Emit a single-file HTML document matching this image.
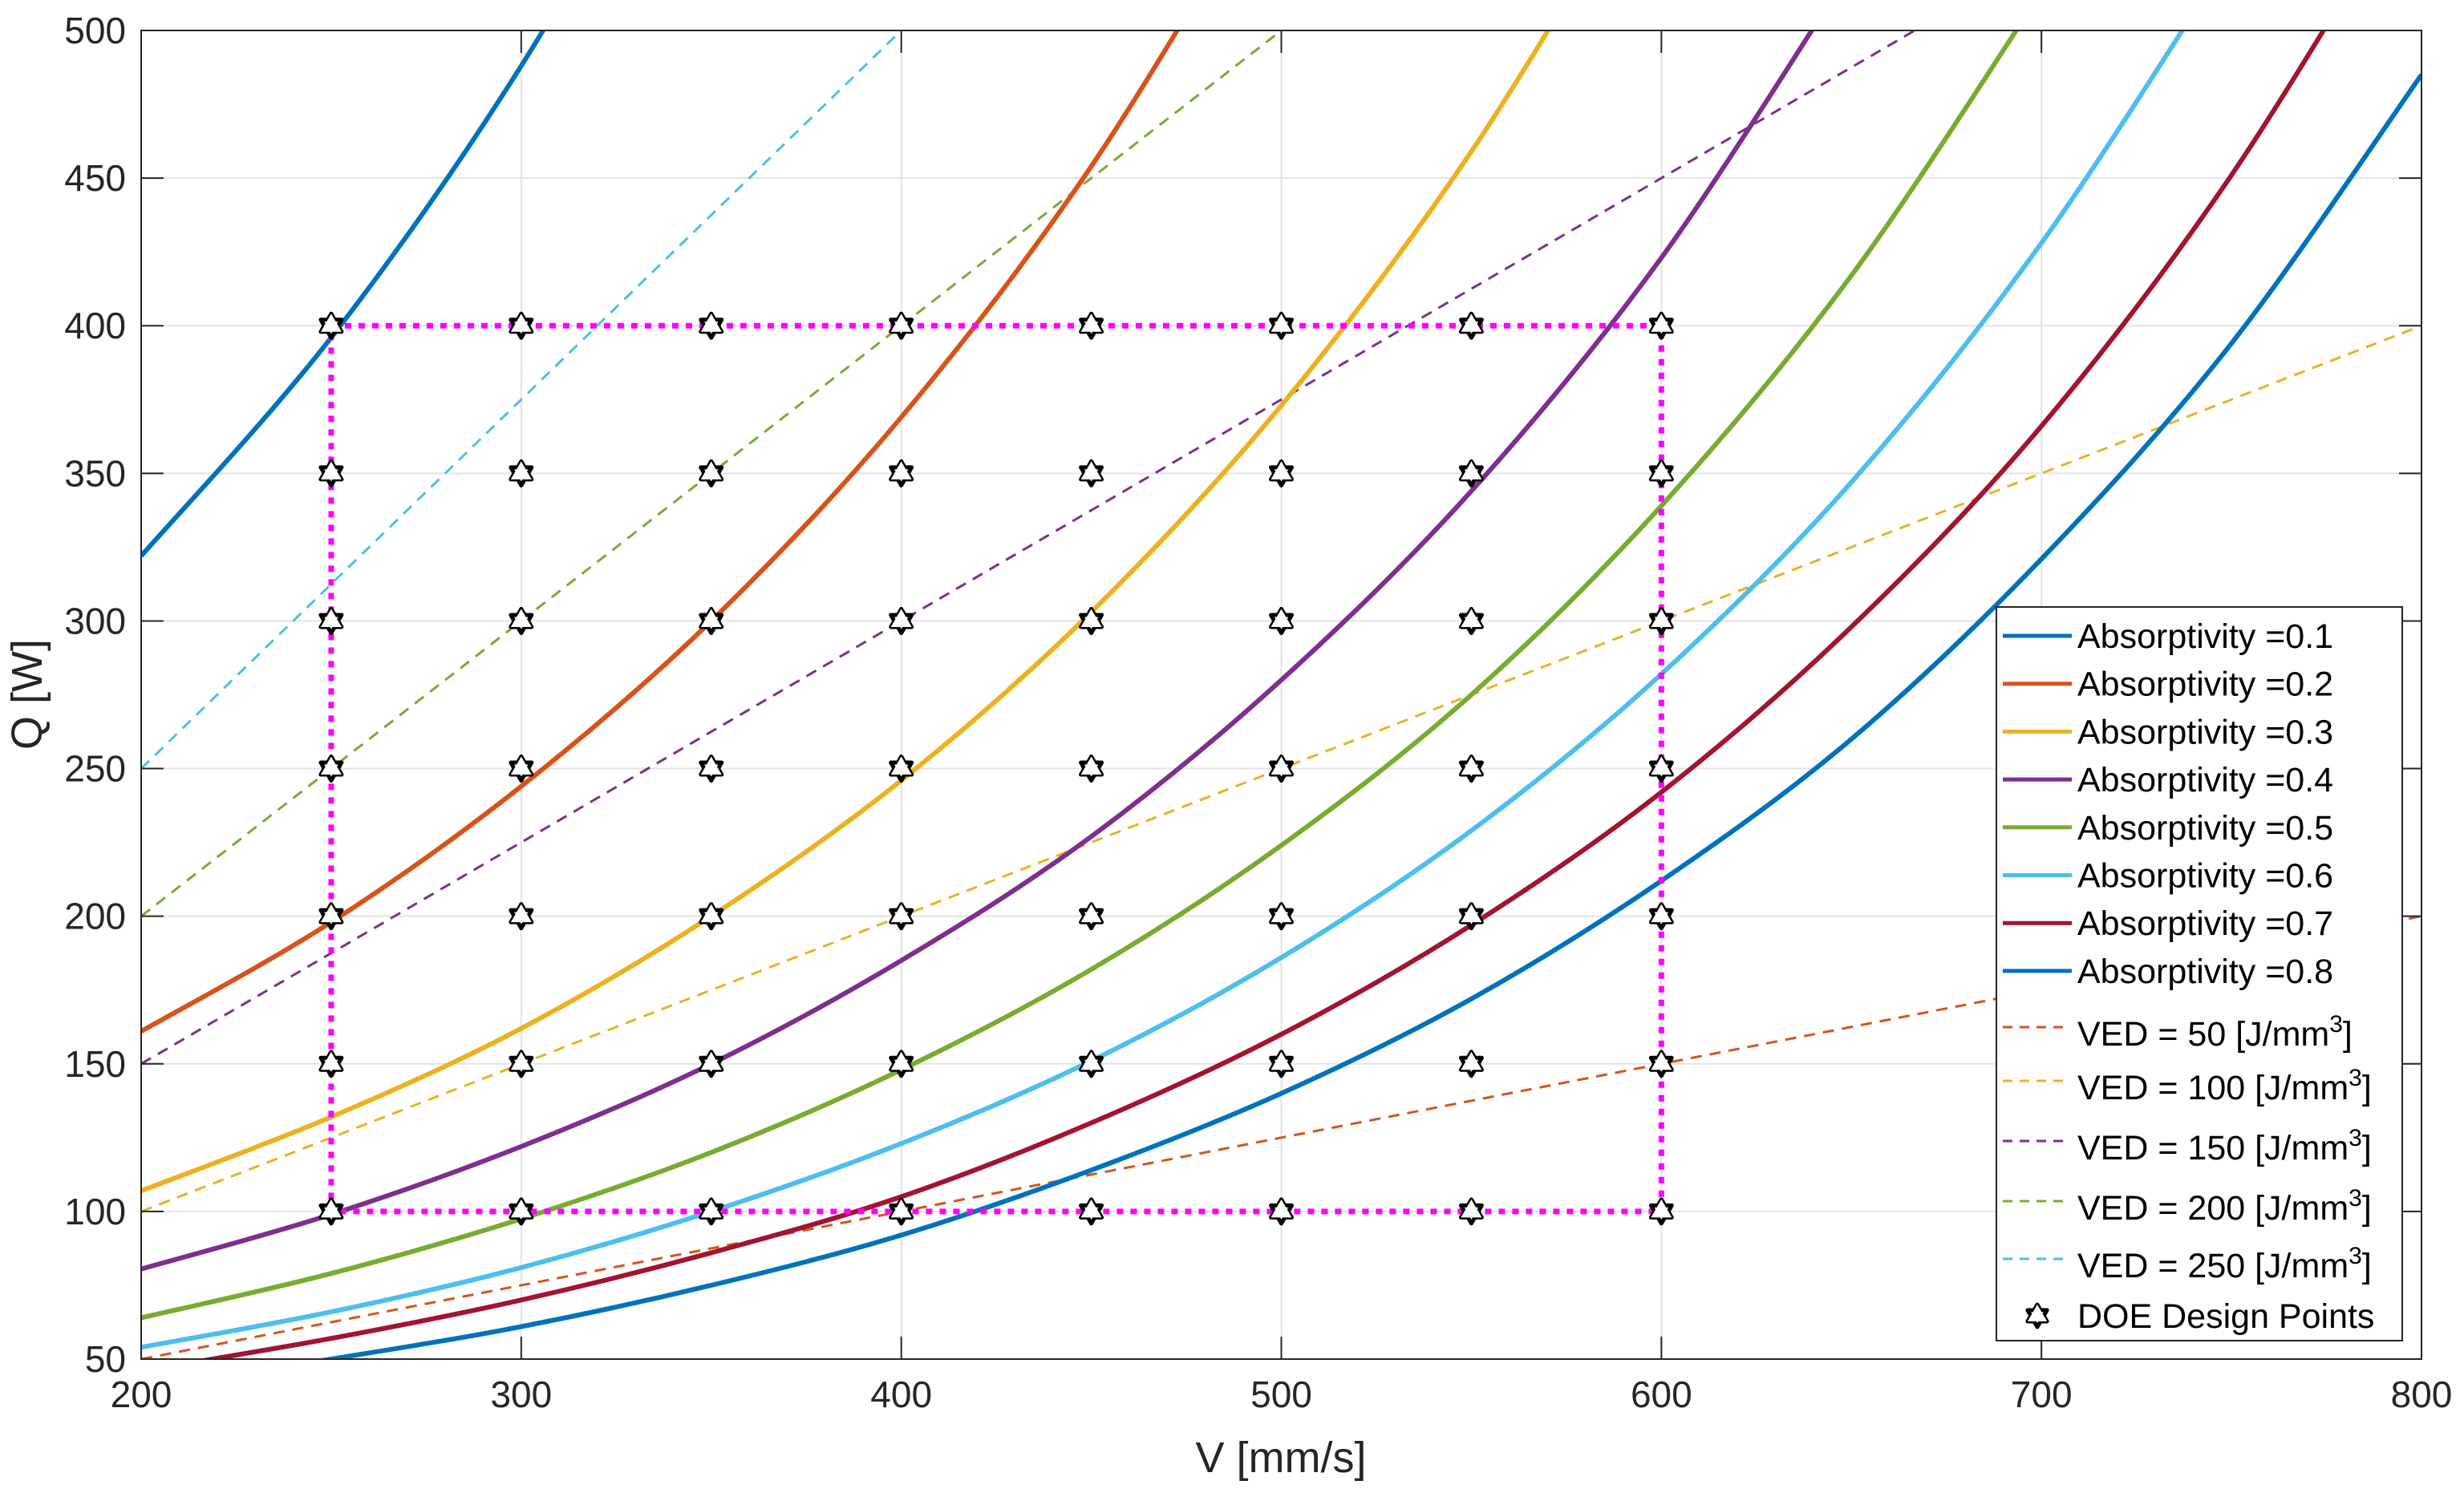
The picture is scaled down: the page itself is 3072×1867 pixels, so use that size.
<!DOCTYPE html>
<html><head><meta charset="utf-8"><style>
html,body{margin:0;padding:0;background:#fff;}
svg{display:block;font-family:"Liberation Sans",Arial,sans-serif;}
</style></head><body>
<svg id="chart" width="3072" height="1867" viewBox="0 0 3072 1867" xmlns="http://www.w3.org/2000/svg">
<defs><clipPath id="pc"><rect x="176" y="38" width="2843" height="1657"/></clipPath></defs>
<rect x="176" y="38" width="2843" height="1657" fill="#fff"/>
<g id="grid"></g>
<g id="series" clip-path="url(#pc)"></g>
<g id="axes"></g>
<text x="1597" y="1836" font-size="54" text-anchor="middle" fill="#262626">V [mm/s]</text>
<text x="0" y="0" font-size="54" text-anchor="middle" fill="#262626" transform="translate(52,866) rotate(-90)">Q [W]</text>
<g id="legend"></g>
</svg>
<script>
const NS="http://www.w3.org/2000/svg";
const xTicks=[200,300,400,500,600,700,800];
const yTicks=[50,100,150,200,250,300,350,400,450,500];
const vGrid=[200,250,300,350,400,450,500,550,600,650,700,750,800];
const absLabels=["0.1","0.2","0.3","0.4","0.5","0.6","0.7","0.8"];
const absColors=["#0072BD","#D95319","#EDB120","#7E2F8E","#77AC30","#4DBEEE","#A2142F","#0072BD"];
const abs01=[322,396,488,600];
const abs02=[161,198,244,300,369,454,559];
const abs03=[107,132,162,200,246,303,373,459,564];
const abs04=[80.5,99,122,150,185,227,280,344,423,521];
const abs05=[64,79,97.5,120,148,182,224,275,339,417,513];
const abs06=[54,66,81,100,123,151,186,229,282,347,428,526];
const abs07=[46,57,70,86,105,130,160,197,242,298,366,451,555];
const abs08=[40,50,61,75,92,114,140,172,212,260,321,394,485];
const absSeries=[abs01,abs02,abs03,abs04,abs05,abs06,abs07,abs08];
const vedValues=[50,100,150,200,250];
const vedColors=["#D95319","#EDB120","#7E2F8E","#77AC30","#4DBEEE"];
const vedV=[200,800];
const doeV=[250,300,350,400,450,500,550,600];
const doeQ=[100,150,200,250,300,350,400];
const boxV=[250,600];
const boxQ=[100,400];
const X=v=>176+(v-200)/600*2843;
const Y=q=>1695-(q-50)/450*1657;
function mk(tag,attrs,parent){const e=document.createElementNS(NS,tag);for(const k in attrs)e.setAttribute(k,attrs[k]);parent.appendChild(e);return e;}
const grid=document.getElementById('grid'),series=document.getElementById('series'),axes=document.getElementById('axes'),legend=document.getElementById('legend');
xTicks.forEach(v=>{const l=mk('line',{x1:X(v),x2:X(v),y1:38,y2:1695,stroke:'#e3e3e3','stroke-width':2},grid);


mk('line',{x1:X(v),x2:X(v),y1:1695,y2:1667,stroke:'#262626','stroke-width':2},axes);
mk('line',{x1:X(v),x2:X(v),y1:38,y2:66,stroke:'#262626','stroke-width':2},axes);
const t=mk('text',{x:X(v),y:1755,'font-size':46,'text-anchor':'middle',fill:'#262626'},axes);t.textContent=v;

});
yTicks.forEach(q=>{const l=mk('line',{x1:176,x2:3019,y1:Y(q),y2:Y(q),stroke:'#e3e3e3','stroke-width':2},grid);


mk('line',{x1:176,x2:204,y1:Y(q),y2:Y(q),stroke:'#262626','stroke-width':2},axes);
mk('line',{x1:3019,x2:2991,y1:Y(q),y2:Y(q),stroke:'#262626','stroke-width':2},axes);
const t=mk('text',{x:157,y:Y(q)+16,'font-size':46,'text-anchor':'end',fill:'#262626'},axes);t.textContent=q;

});
mk('rect',{x:176,y:38,width:2843,height:1657,fill:'none',stroke:'#262626','stroke-width':2},axes);
function smooth(pts){let d=`M${pts[0][0]},${pts[0][1]}`;for(let i=0;i<pts.length-1;i++){const p0=pts[i-1]||pts[i],p1=pts[i],p2=pts[i+1],p3=pts[i+2]||p2;
d+=` C${p1[0]+(p2[0]-p0[0])/6},${p1[1]+(p2[1]-p0[1])/6} ${p2[0]-(p3[0]-p1[0])/6},${p2[1]-(p3[1]-p1[1])/6} ${p2[0]},${p2[1]}`;}return d;}
vedValues.forEach((e,i)=>{const l=mk('line',{x1:X(vedV[0]),y1:Y(e*vedV[0]/200),x2:X(vedV[1]),y2:Y(e*vedV[1]/200),stroke:vedColors[i],'stroke-width':3,'stroke-dasharray':'14 10'},series);

});
absSeries.forEach((s,i)=>{const pts=s.map((q,j)=>[X(vGrid[j]),Y(q)]);const p=mk('path',{d:smooth(pts),fill:'none',stroke:absColors[i],'stroke-width':6},series);

});
const box=mk('rect',{x:X(boxV[0]),y:Y(boxQ[1]),width:X(boxV[1])-X(boxV[0]),height:Y(boxQ[0])-Y(boxQ[1]),fill:'none',stroke:'#FF00FF','stroke-width':7,'stroke-dasharray':'8 9'},series);


function star(cx,cy,r,parent){const a=[],b=[];for(let k=0;k<3;k++){const t1=-Math.PI/2+k*2*Math.PI/3,t2=Math.PI/2+k*2*Math.PI/3;a.push((cx+r*Math.cos(t1))+','+(cy+r*Math.sin(t1)));b.push((cx+r*Math.cos(t2))+','+(cy+r*Math.sin(t2)));}
const g=mk('g',{},parent);mk('polygon',{points:a.join(' '),fill:'#fff',stroke:'#000','stroke-width':5,'stroke-linejoin':'round'},g);mk('polygon',{points:b.join(' '),fill:'#fff',stroke:'#000','stroke-width':5,'stroke-linejoin':'round'},g);
mk('polygon',{points:a.join(' '),fill:'#fff',stroke:'none'},g);
return g;}
doeQ.forEach(q=>doeV.forEach(v=>{const g=star(X(v),Y(q),15,series);

}));
mk('rect',{x:2489,y:757,width:506,height:915,fill:'#fff',stroke:'#262626','stroke-width':2},legend);
absLabels.forEach((a,i)=>{const y=793+i*59.7;mk('line',{x1:2497,x2:2583,y1:y,y2:y,stroke:absColors[i],'stroke-width':5},legend);
const t=mk('text',{x:2590,y:y+15,'font-size':43,fill:'#000'},legend);t.textContent='Absorptivity =' + a;

});
const vedRows=[1289,1356,1431,1506,1578];
vedValues.forEach((e,i)=>{const y=vedRows[i];mk('line',{x1:2497,x2:2575,y1:y-8,y2:y-8,stroke:vedColors[i],'stroke-width':3,'stroke-dasharray':'12 9'},legend);
const t=mk('text',{x:2590,y:y+15,'font-size':43,fill:'#000'},legend);t.innerHTML='VED = '+e+' [J/mm<tspan dy="-17" font-size="30">3</tspan><tspan dy="17">]</tspan>';

});
star(2540,1641,14,legend);
const td=mk('text',{x:2590,y:1656,'font-size':43,fill:'#000'},legend);td.textContent='DOE Design Points';


</script>
</body></html>
